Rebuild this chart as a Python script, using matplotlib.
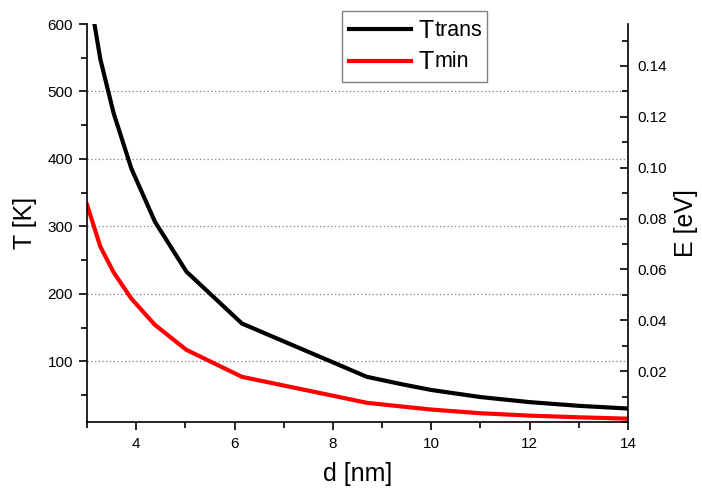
import matplotlib
matplotlib.use("Agg")
import matplotlib.pyplot as plt
from matplotlib.ticker import MultipleLocator, FixedLocator, FormatStrFormatter

plt.rcParams['font.family'] = ['Liberation Sans', 'DejaVu Sans']

d_nm = [3.0, 3.27, 3.54, 3.9, 4.38, 5.02, 6.15, 8.69, 9.4, 10.0, 11.0, 12.0, 13.0, 14.0]
T_trans = [665, 548, 468, 386, 307, 233, 156, 77, 66, 57.5, 47, 39.5, 34, 30]
T_min = [332, 270, 232, 193, 154, 117, 77, 38.5, 33, 28.5, 23, 19.5, 17, 15]

x_major = [4, 6, 8, 10, 12, 14]
T_major = [100, 200, 300, 400, 500, 600]
E_major = [0.02, 0.04, 0.06, 0.08, 0.10, 0.12, 0.14]

fig = plt.figure(figsize=(7.02, 4.88), dpi=100)
ax = fig.add_axes([0.124, 0.1352, 0.7706, 0.8156])

l1, = ax.plot(d_nm, T_trans, color='black', lw=3.0, solid_joinstyle='miter')
l2, = ax.plot(d_nm, T_min, color='#ff0000', lw=3.0, solid_joinstyle='miter')

ax.set_xlim(3, 14)
ax.set_ylim(10, 600)
ax.xaxis.set_major_locator(FixedLocator(x_major))
ax.xaxis.set_minor_locator(MultipleLocator(1))
ax.yaxis.set_major_locator(FixedLocator(T_major))
ax.yaxis.set_minor_locator(MultipleLocator(50))

for y in T_major[:-1]:
    ax.axhline(y, color='#808080', lw=0.9, ls=(0, (1, 2)), zorder=0.5)

ax.spines['top'].set_visible(False)
ax.spines['right'].set_visible(False)
for s in ['left', 'bottom']:
    ax.spines[s].set_linewidth(1.2)

ax.tick_params(axis='both', which='major', direction='out', length=6, width=1.2,
               labelsize=11, pad=4)
ax.tick_params(axis='both', which='minor', direction='out', length=4, width=1.2)
ax.tick_params(axis='x', which='major', pad=5)

ax.set_xlabel('d [nm]', fontsize=18, labelpad=8)
ax.set_ylabel('T [K]', fontsize=18, labelpad=8)

ax2 = ax.twinx()
ax2.set_ylim(0, 0.1565)
ax2.yaxis.set_major_locator(FixedLocator(E_major))
ax2.yaxis.set_minor_locator(MultipleLocator(0.01))
ax2.yaxis.set_major_formatter(FormatStrFormatter('%.2f'))
for s in ['left', 'top', 'bottom']:
    ax2.spines[s].set_visible(False)
ax2.spines['right'].set_linewidth(1.2)
ax2.tick_params(axis='y', which='major', direction='in', length=6, width=1.2,
                labelsize=11, pad=7)
ax2.tick_params(axis='y', which='minor', direction='in', length=4, width=1.2)
ax2.set_ylabel('E [eV]', fontsize=18, labelpad=5)

leg = ax2.legend([l1, l2], ['T', 'T'], fontsize=18, loc='upper left',
                 bbox_to_anchor=(0.471, 0.859, 0.268, 0.173), mode='expand',
                 borderaxespad=0, frameon=True, fancybox=False,
                 handlelength=2.45, handletextpad=0.3, borderpad=0.3,
                 labelspacing=0.3, framealpha=1)
leg.get_frame().set_edgecolor('#808080')
leg.get_frame().set_linewidth(1.0)

fig.canvas.draw()
texts = leg.get_texts()
for t, sub in zip(texts, ['trans', 'min']):
    ax2.annotate(sub, xy=(1, 0), xycoords=t, xytext=(0.8, 1.5),
                 textcoords='offset points', fontsize=15.5, va='bottom',
                 ha='left', annotation_clip=False, zorder=10)

fig.savefig('out.png', dpi=100)
